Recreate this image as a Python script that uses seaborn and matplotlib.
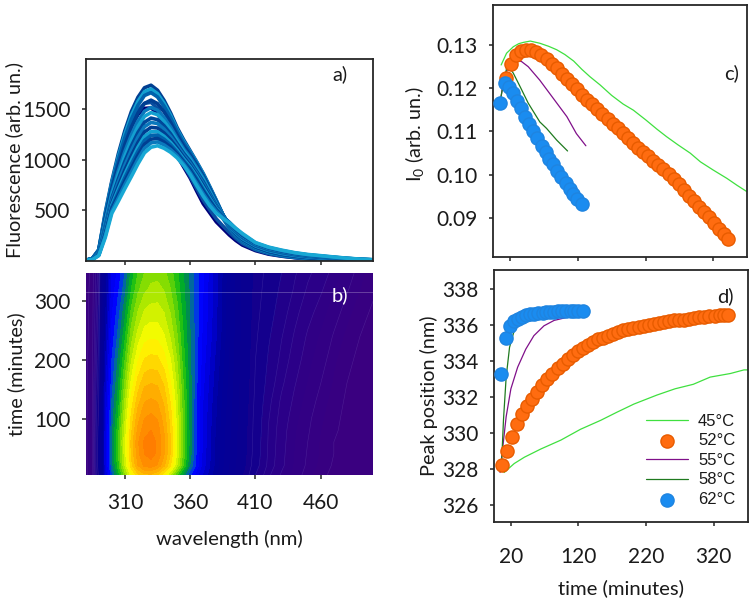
import matplotlib
matplotlib.use("Agg")
import matplotlib.pyplot as plt
import numpy as np
import pandas as pd
import seaborn as sns
from matplotlib.colors import LinearSegmentedColormap

wavelength = [280, 285, 290, 295, 300, 305, 310, 315, 320, 325, 330, 335, 340, 345, 350, 355, 360, 365,
              370, 375, 380, 385, 390, 395, 400, 410, 420, 430, 440, 450, 460, 470, 480, 490, 500]

# a) spectra, one curve per time (inner curves of the band are estimates)
curve_times = [4, 10, 20, 60, 80, 100, 130, 160, 180, 200, 220, 240, 260, 280, 300, 320, 348]
curve_004 = [5, 18, 90, 400, 680, 920, 1150, 1330, 1450, 1510, 1515, 1465, 1340, 1190, 1040, 930, 820, 690, 565, 475, 385, 320, 255, 200, 155, 100, 65, 45, 30, 19, 12, 7, 5, 3, 1]
curve_010 = [5, 18, 92, 415, 700, 940, 1180, 1360, 1490, 1560, 1570, 1510, 1400, 1240, 1080, 950, 835, 715, 600, 505, 415, 345, 280, 220, 170, 108, 70, 47, 32, 20, 13, 8, 5, 3, 2]
curve_020 = [5, 19, 105, 450, 770, 1010, 1270, 1440, 1590, 1665, 1680, 1630, 1530, 1395, 1250, 1120, 1020, 905, 770, 640, 530, 420, 320, 240, 185, 115, 75, 50, 33, 21, 14, 9, 6, 4, 2]
curve_060 = [5, 20, 110, 480, 790, 1060, 1290, 1480, 1620, 1715, 1740, 1690, 1590, 1465, 1320, 1200, 1090, 980, 865, 735, 600, 458, 340, 260, 200, 125, 80, 52, 35, 22, 14, 9, 6, 4, 2]
curve_080 = [5, 19, 106, 465, 771, 1032, 1256, 1441, 1580, 1676, 1703, 1657, 1562, 1442, 1302, 1185, 1080, 975, 860, 730, 595, 458, 340, 262, 203, 128, 83, 55, 38, 24, 16, 11, 7, 5, 2]
curve_100 = [5, 19, 103, 450, 752, 1004, 1221, 1403, 1541, 1638, 1666, 1624, 1533, 1418, 1284, 1169, 1070, 965, 850, 722, 590, 458, 342, 265, 206, 132, 87, 58, 40, 27, 18, 12, 8, 5, 3]
curve_130 = [5, 18, 96, 420, 713, 947, 1152, 1325, 1462, 1560, 1592, 1558, 1476, 1371, 1248, 1139, 1045, 945, 835, 710, 580, 458, 345, 268, 212, 138, 93, 65, 46, 32, 23, 16, 11, 7, 4]
curve_160 = [5, 16, 88, 390, 675, 891, 1083, 1248, 1382, 1483, 1519, 1492, 1419, 1325, 1212, 1108, 1025, 925, 820, 695, 570, 457, 348, 275, 218, 145, 100, 71, 51, 36, 27, 19, 13, 8, 5]
curve_180 = [5, 16, 84, 370, 649, 853, 1037, 1196, 1330, 1431, 1469, 1448, 1381, 1293, 1188, 1088, 1005, 905, 805, 680, 560, 455, 350, 280, 225, 149, 104, 75, 55, 40, 30, 21, 14, 9, 6]
curve_200 = [5, 15, 78, 348, 620, 811, 985, 1138, 1270, 1373, 1414, 1398, 1338, 1258, 1161, 1065, 985, 885, 785, 665, 550, 452, 355, 285, 230, 154, 109, 80, 59, 43, 33, 24, 16, 10, 6]
curve_220 = [5, 14, 74, 330, 598, 778, 945, 1093, 1224, 1328, 1371, 1360, 1305, 1231, 1140, 1047, 965, 870, 765, 650, 540, 450, 360, 290, 235, 158, 113, 84, 62, 46, 36, 26, 17, 11, 7]
curve_240 = [5, 13, 69, 310, 572, 740, 899, 1041, 1171, 1276, 1322, 1316, 1267, 1200, 1116, 1027, 945, 850, 745, 635, 530, 448, 365, 295, 240, 162, 117, 88, 66, 49, 38, 28, 19, 12, 7]
curve_260 = [5, 13, 65, 292, 550, 708, 859, 996, 1125, 1231, 1279, 1278, 1234, 1172, 1095, 1009, 930, 835, 725, 620, 520, 445, 370, 300, 245, 166, 121, 92, 69, 52, 41, 30, 20, 13, 8]
curve_280 = [5, 12, 61, 278, 531, 679, 824, 958, 1085, 1193, 1242, 1245, 1205, 1149, 1077, 993, 915, 815, 705, 605, 510, 440, 375, 305, 250, 170, 125, 95, 71, 54, 43, 32, 22, 14, 8]
curve_300 = [5, 11, 58, 263, 512, 651, 790, 919, 1046, 1154, 1205, 1212, 1177, 1126, 1059, 978, 895, 795, 690, 590, 500, 435, 380, 312, 255, 173, 128, 98, 74, 57, 45, 33, 23, 14, 9]
curve_320 = [5, 11, 54, 248, 492, 623, 755, 880, 1006, 1115, 1168, 1178, 1148, 1102, 1041, 963, 875, 770, 665, 570, 490, 430, 380, 318, 262, 176, 131, 101, 77, 59, 47, 35, 24, 15, 9]
curve_348 = [5, 10, 50, 230, 470, 590, 715, 835, 960, 1070, 1125, 1140, 1115, 1075, 1020, 945, 855, 745, 640, 545, 470, 420, 375, 320, 270, 180, 135, 105, 80, 62, 50, 37, 25, 16, 10]
curves = [curve_004, curve_010, curve_020, curve_060, curve_080, curve_100, curve_130, curve_160, curve_180, curve_200,
          curve_220, curve_240, curve_260, curve_280, curve_300, curve_320, curve_348]

# b) contour map
map_times = [4, 20, 40, 60, 80, 100, 130, 160, 200, 240, 280, 320, 348]
map_004 = [5, 18, 130, 560, 790, 950, 1140, 1320, 1450, 1510, 1515, 1465, 1365, 1210, 1040, 890, 760, 650, 560, 480, 390, 310, 245, 190, 150, 90, 58, 38, 25, 16, 10, 6, 4, 2, 1]
map_020 = [5, 19, 140, 590, 840, 1020, 1230, 1445, 1590, 1665, 1680, 1640, 1540, 1410, 1225, 1035, 860, 720, 595, 510, 420, 335, 265, 207, 163, 100, 65, 43, 28, 18, 12, 7, 5, 3, 2]
map_040 = [5, 20, 140, 600, 860, 1040, 1260, 1478, 1630, 1712, 1735, 1695, 1595, 1462, 1272, 1075, 893, 735, 605, 518, 428, 343, 273, 213, 168, 104, 67, 44, 29, 19, 13, 8, 5, 3, 2]
map_060 = [5, 20, 140, 600, 860, 1050, 1270, 1490, 1640, 1720, 1740, 1700, 1600, 1470, 1280, 1080, 900, 740, 610, 520, 430, 345, 275, 215, 170, 105, 68, 45, 30, 20, 13, 8, 5, 3, 2]
map_080 = [5, 20, 135, 590, 850, 1030, 1245, 1458, 1605, 1688, 1710, 1680, 1585, 1455, 1270, 1078, 898, 742, 610, 525, 435, 350, 278, 218, 172, 107, 69, 46, 31, 21, 14, 9, 6, 3, 2]
map_100 = [5, 19, 130, 580, 830, 1000, 1220, 1430, 1570, 1650, 1670, 1645, 1560, 1440, 1260, 1070, 895, 745, 615, 530, 445, 360, 285, 222, 175, 108, 71, 48, 33, 22, 15, 10, 6, 4, 2]
map_130 = [5, 18, 120, 555, 810, 960, 1175, 1375, 1505, 1585, 1600, 1585, 1515, 1400, 1240, 1060, 895, 750, 625, 540, 455, 370, 295, 230, 180, 112, 75, 52, 37, 25, 17, 11, 7, 4, 3]
map_160 = [5, 17, 110, 530, 780, 925, 1120, 1310, 1435, 1515, 1530, 1520, 1460, 1355, 1210, 1040, 890, 755, 640, 555, 470, 385, 305, 235, 183, 116, 81, 58, 41, 29, 20, 13, 8, 5, 3]
map_200 = [5, 15, 100, 495, 750, 880, 1045, 1225, 1345, 1415, 1430, 1425, 1375, 1290, 1165, 1010, 880, 765, 655, 570, 490, 405, 320, 242, 187, 120, 87, 65, 47, 33, 24, 15, 10, 6, 4]
map_240 = [5, 13, 90, 460, 710, 830, 975, 1145, 1255, 1325, 1340, 1335, 1295, 1220, 1115, 985, 870, 770, 670, 590, 510, 425, 330, 246, 190, 125, 93, 71, 53, 38, 28, 19, 12, 8, 5]
map_280 = [5, 12, 80, 430, 680, 785, 910, 1070, 1175, 1240, 1258, 1260, 1230, 1165, 1070, 960, 862, 772, 680, 600, 518, 432, 335, 248, 192, 130, 100, 78, 60, 45, 34, 24, 16, 10, 7]
map_320 = [5, 11, 72, 400, 650, 740, 845, 990, 1095, 1155, 1185, 1190, 1165, 1110, 1025, 940, 855, 772, 688, 607, 523, 438, 338, 250, 194, 134, 106, 85, 68, 53, 42, 30, 21, 14, 9]
map_348 = [5, 10, 65, 380, 635, 710, 810, 950, 1050, 1110, 1145, 1150, 1125, 1075, 1000, 925, 850, 770, 690, 610, 525, 440, 340, 250, 195, 136, 110, 90, 72, 58, 48, 35, 25, 16, 10]
map_rows = [map_004, map_020, map_040, map_060, map_080, map_100, map_130, map_160, map_200, map_240, map_280,
            map_320, map_348]

# c), d) I0 and peak position
t45_c = [7, 15, 25, 33, 40, 50, 64, 77, 89, 101, 114, 126, 138, 153, 170, 187, 202, 220, 237, 251, 268, 286, 301, 320, 340, 355, 372]
i0_45 = [.1253, .1280, .1295, .1302, .1305, .1308, .1303, .1296, .1288, .1277, .1262, .1243, .1226, .1207, .1183, .1163, .1149,
         .1127, .1105, .1088, .1069, .1050, .1030, .1011, .0992, .0976, .0959]
t45_d = [10, 25, 40, 64, 94, 123, 153, 177, 202, 236, 263, 290, 315, 345, 365, 372]
peak_45 = [327.8, 328.3, 328.65, 329.1, 329.6, 330.2, 330.7, 331.15, 331.6, 332.1, 332.45, 332.7, 333.1, 333.3, 333.5, 333.5]

t52_c = [14, 21.5, 29, 36.5, 44, 51.5, 59, 66.5, 74, 81.5, 89, 96.5, 104, 111.5, 119, 126.5, 134, 141.5, 149,
         156.5, 164, 171.5, 179, 186.5, 194, 201.5, 209, 216.5, 224, 231.5, 239, 246.5, 254, 261.5, 269, 276.5,
         284, 291.5, 299, 306.5, 314, 321.5, 329, 336, 342]
i0_52 = [.1224, .1255, .1276, .1285, .1288, .1287, .1282, .1275, .1266, .1256, .1245, .1233, .1221, .1209,
         .1197, .1185, .1173, .1162, .1151, .1140, .1129, .1118, .1107, .1096, .1085, .1074, .1063, .1053, .1043,
         .1033, .1023, .1013, .1003, .0990, .0978, .0965, .0952, .0939, .0927, .0914, .0902, .0889, .0876, .0864, .0852]
t52_d = [7, 14, 21.5, 29, 36.5, 44, 51.5, 59, 66.5, 74, 81.5, 89, 96.5, 104, 111.5, 119, 126.5, 134, 141.5, 149,
         156.5, 164, 171.5, 179, 186.5, 194, 201.5, 209, 216.5, 224, 231.5, 239, 246.5, 254, 261.5, 269, 276.5,
         284, 291.5, 299, 306.5, 314, 321.5, 329, 336, 342]
peak_52 = [328.2, 329.0, 329.8, 330.5, 331.05, 331.5, 331.9, 332.3, 332.65, 333.0, 333.3, 333.6, 333.85, 334.1,
           334.35, 334.55, 334.7, 334.9, 335.05, 335.2, 335.3, 335.4, 335.5, 335.6, 335.7, 335.8, 335.85, 335.9,
           335.95, 336.0, 336.05, 336.1, 336.15, 336.2, 336.25, 336.3, 336.3, 336.35, 336.4, 336.45, 336.45, 336.5,
           336.5, 336.55, 336.55, 336.55]

t55_c = [7, 11, 20, 27, 37, 47, 64, 84, 104, 118, 132]
i0_55 = [.118, .1226, .1253, .1263, .1261, .1249, .1218, .1176, .1134, .1095, .1067]
t55_d = [4, 8, 13, 20, 30, 42, 54, 69, 84, 101]
peak_55 = [327.8, 329.2, 330.9, 332.45, 333.65, 334.65, 335.4, 335.95, 336.25, 336.4]

t58_c = [3, 8, 15, 20, 25, 35, 47, 64, 74, 89, 105]
i0_58 = [.115, .119, .1245, .1245, .1234, .1203, .1165, .1122, .1107, .108, .1055]
t58_d = [6, 9, 13, 18, 25, 35, 60, 105]
peak_58 = [328.1, 330.7, 333.1, 334.75, 335.7, 336.4, 336.6, 336.8]

t62 = [5.2, 12.6, 18.5, 25, 30, 36, 42, 48, 54.5, 60.4, 67, 72.7, 78, 84, 90, 96, 102, 109, 113.6, 119.5, 126.4]
i0_62 = [.1165, .1211, .1202, .1188, .117, .1153, .1134, .1117, .1101, .1084, .1067, .1052, .1036, .1024, .1008,
         .0995, .0982, .0968, .0957, .0945, .0932]
peak_62 = [333.25, 335.25, 335.95, 336.2, 336.35, 336.45, 336.55, 336.6, 336.62, 336.65, 336.68, 336.7, 336.72,
           336.73, 336.75, 336.76, 336.77, 336.78, 336.8, 336.8, 336.8]

GREEN45, ORANGE, PURPLE, GREEN58, BLUE = "#3fe03f", "#ff6c10", "#80108a", "#1f7a1f", "#1a8cf0"
W, H = 754, 603

sns.set_theme(style="ticks")
plt.rcParams["font.family"] = ["Lato", "DejaVu Sans"]
plt.rcParams["mathtext.default"] = "regular"
plt.rcParams["axes.linewidth"] = 1.3
plt.rcParams["xtick.major.width"] = 1.1
plt.rcParams["ytick.major.width"] = 1.1
plt.rcParams["xtick.major.size"] = 3
plt.rcParams["ytick.major.size"] = 3
plt.rcParams["text.color"] = "#1a1a1a"
plt.rcParams["axes.labelcolor"] = "#1a1a1a"
plt.rcParams["xtick.labelcolor"] = "#1a1a1a"
plt.rcParams["ytick.labelcolor"] = "#1a1a1a"


def add_axes(fig, left, top, right, bottom):
    return fig.add_axes([left / W, 1 - bottom / H, (right - left) / W, (bottom - top) / H])


fig = plt.figure(figsize=(W / 100, H / 100), dpi=100)
ax_a = add_axes(fig, 85.7, 59, 373, 260.7)
ax_b = add_axes(fig, 85.7, 273, 373, 475)
ax_c = add_axes(fig, 493, 5, 747, 257)
ax_d = add_axes(fig, 494, 270, 748, 522)

# a) spectra
curve_df = pd.DataFrame(curves, index=curve_times, columns=wavelength).rename_axis("time")
curve_long = curve_df.reset_index().melt(id_vars="time", var_name="wl", value_name="fl")
shades = ["#00007a", "#0a4ea0", "#0a6cb0", "#003f92", "#14a0d0", "#0062ac", "#003f92", "#0a78bc", "#14a0d0", "#00489a",
          "#0a78bc", "#003f92", "#14a0d0", "#0062ac", "#003f92", "#0a78bc", "#18a8d4"]
palette = dict(zip(curve_times, shades))
sns.lineplot(data=curve_long, x="wl", y="fl", hue="time", palette=palette, lw=2.6, legend=False, ax=ax_a,
             estimator=None, errorbar=None)
ax_a.set_xlim(280, 500)
ax_a.set_ylim(0, 2000)
ax_a.set_xticks([310, 360, 410, 460])
ax_a.set_xticklabels([])
ax_a.set_yticks([500, 1000, 1500])
ax_a.set_xlabel("")
ax_a.set_ylabel("Fluorescence (arb. un.)", fontsize=14.3)
ax_a.yaxis.set_label_coords(-0.218, 0.5)
ax_a.tick_params(axis="y", labelsize=15, pad=8)
ax_a.text(0.885, 0.925, "a)", transform=ax_a.transAxes, fontsize=14.5, ha="center", va="center")

# b) contour map
cmap = LinearSegmentedColormap.from_list("spec", [
    (0 / 2000, "#3a0080"), (50 / 2000, "#2a0088"), (150 / 2000, "#0a0090"), (450 / 2000, "#00009c"),
    (620 / 2000, "#0000e8"), (720 / 2000, "#0000ff"), (800 / 2000, "#0050d8"), (880 / 2000, "#008060"),
    (980 / 2000, "#00b818"), (1150 / 2000, "#90e000"), (1340 / 2000, "#ffff00"), (1550 / 2000, "#ffb000"),
    (1760 / 2000, "#ff7800"), (1, "#e00000")])
levels = np.concatenate([[0, 4, 8, 14, 20, 30, 40, 55, 70], np.arange(90, 2001, 60)])
map_values = np.array(map_rows)
ax_b.contourf(wavelength, map_times, map_values, levels=levels, cmap=cmap, vmin=0, vmax=2000)
ax_b.contour(wavelength, map_times, map_values, levels=[8, 20, 40, 55, 70, 90, 120],
             colors="#b9a6e0", linewidths=0.4, alpha=0.18)
ax_b.axhline(316, color="white", lw=0.7, alpha=0.25)
ax_b.set_xlim(280, 500)
ax_b.set_ylim(4, 348)
ax_b.set_xticks([310, 360, 410, 460])
ax_b.set_yticks([100, 200, 300])
for side in ax_b.spines.values():
    side.set_visible(False)
ax_b.tick_params(axis="x", labelsize=15, pad=10)
ax_b.tick_params(axis="y", labelsize=15, pad=8)
ax_b.set_xlabel("wavelength (nm)", fontsize=14.6)
ax_b.xaxis.set_label_coords(0.5, -0.272)
ax_b.set_ylabel("time (minutes)", fontsize=14.3)
ax_b.yaxis.set_label_coords(-0.211, 0.5)
ax_b.text(0.885, 0.89, "b)", transform=ax_b.transAxes, fontsize=14.5, ha="center", va="center", color="white")


def draw_runs(ax, t45, y45, t52, y52, t55, y55, t58, y58, y62):
    sns.lineplot(x=t45, y=y45, color=GREEN45, lw=0.9, ax=ax, label="45°C", errorbar=None)
    sns.scatterplot(x=t52, y=y52, color=ORANGE, edgecolor="#e85c00", linewidth=1, s=90, ax=ax, label="52°C", zorder=3)
    sns.lineplot(x=t55, y=y55, color=PURPLE, lw=0.9, ax=ax, label="55°C", errorbar=None, zorder=2)
    sns.lineplot(x=t58, y=y58, color=GREEN58, lw=0.9, ax=ax, label="58°C", errorbar=None, zorder=2)
    sns.scatterplot(x=t62, y=y62, color=BLUE, edgecolor="#1f84e0", linewidth=1, s=90, ax=ax, label="62°C", zorder=4)
    ax.set_xticks([20, 120, 220, 320])


# c) I0 against time
draw_runs(ax_c, t45_c, i0_45, t52_c, i0_52, t55_c, i0_55, t58_c, i0_58, i0_62)
ax_c.set_xlim(-5, 369.7)
ax_c.set_ylim(.0811, .1391)
ax_c.set_yticks([.09, .10, .11, .12, .13])
ax_c.set_yticklabels(["0.09", "0.10", "0.11", "0.12", "0.13"])
ax_c.set_xticklabels([])
ax_c.tick_params(axis="y", labelsize=15, pad=8)
ax_c.set_ylabel("I$_0$ (arb. un.)", fontsize=14.3)
ax_c.yaxis.set_label_coords(-0.264, 0.49)
ax_c.get_legend().remove()
ax_c.text(0.94, 0.73, "c)", transform=ax_c.transAxes, fontsize=14.5, ha="center", va="center")

# d) peak position against time
draw_runs(ax_d, t45_d, peak_45, t52_d, peak_52, t55_d, peak_55, t58_d, peak_58, peak_62)
ax_d.set_xlim(-5, 371)
ax_d.set_ylim(325.05, 339.05)
ax_d.set_yticks([326, 328, 330, 332, 334, 336, 338])
ax_d.tick_params(axis="x", labelsize=15, pad=15)
ax_d.tick_params(axis="y", labelsize=15, pad=8)
ax_d.set_xlabel("time (minutes)", fontsize=14.6)
ax_d.xaxis.set_label_coords(0.5, -0.226)
ax_d.set_ylabel("Peak position (nm)", fontsize=14.3)
ax_d.yaxis.set_label_coords(-0.22, 0.5)
ax_d.text(0.91, 0.895, "d)", transform=ax_d.transAxes, fontsize=14.5, ha="center", va="center")
ax_d.legend(loc="lower right", bbox_to_anchor=(0.95, 0.06), frameon=False, handlelength=2.5, handletextpad=0.6,
            labelspacing=0.27, borderpad=0, borderaxespad=0, prop={"family": "Liberation Sans", "size": 12})

fig.savefig("out.png", dpi=100)
